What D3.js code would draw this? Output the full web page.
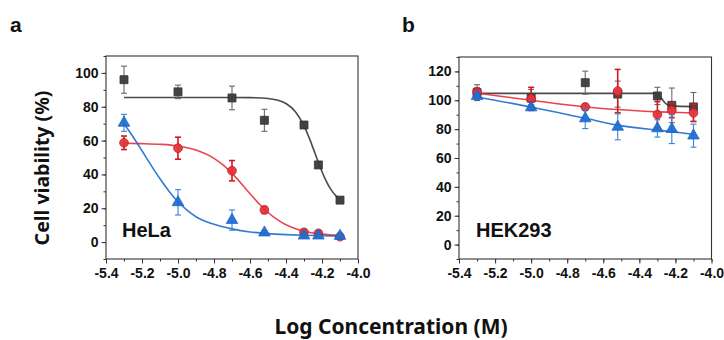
<!DOCTYPE html>
<html><head><meta charset="utf-8">
<script src="https://cdn.jsdelivr.net/npm/d3@7"></script>
<style>
html,body{margin:0;padding:0;background:#fff;}
svg{display:block;}
</style></head>
<body>
<svg id="chart" width="724" height="340"></svg>
<script>
// ---------- data ----------
const concLog = [-5.3, -5.0, -4.7, -4.52, -4.3, -4.22, -4.1];

const helaBlack = [96, 88.8, 85.2, 72, 69.2, 45.6, 24.8];
const helaBlackErr = [8, 4, 7, 6.5, 1.5, 1.5, 1.5];
const helaRed = [58.7, 55.5, 42.2, 19, 5.8, 5.2, 3.2];
const helaRedErr = [4, 6.5, 6, 2, 1.5, 1.5, 1.5];
const helaBlue = [70.5, 23.5, 13, 5.6, 3.8, 3.8, 3.6];
const helaBlueErr = [5, 7.5, 6, 1, 1, 1, 1];

const hekBlack = [105.3, 101.5, 112.2, 104.3, 103, 96.5, 95.4];
const hekBlackErr = [5.5, 6, 8, 9, 6, 12, 10];
const hekRed = [105.5, 101, 95.4, 106.4, 90.1, 93, 91.3];
const hekRedErr = [3, 8, 2, 15, 9, 5, 6];
const hekBlue = [102.8, 95, 87.4, 81.6, 80.5, 80, 75.5];
const hekBlueErr = [2, 2, 7, 9, 6, 10, 8];

// fitted curves
const helaBlackFitX = [-5.3, -5.0, -4.7, -4.6, -4.5, -4.45, -4.4, -4.35, -4.3, -4.27, -4.24, -4.21, -4.18, -4.15, -4.12, -4.1];
const helaBlackFitY = [85.5, 85.5, 85.5, 85.4, 84.9, 84.0, 81.9, 77.3, 68.7, 61.3, 52.8, 44.2, 36.8, 31.0, 27.0, 25.0];
const helaRedFitX = [-5.3, -5.2, -5.1, -5.0, -4.9, -4.8, -4.75, -4.7, -4.65, -4.6, -4.55, -4.5, -4.45, -4.4, -4.35, -4.3, -4.2, -4.1];
const helaRedFitY = [58.4, 58.2, 57.8, 56.8, 54.4, 49.5, 45.6, 40.6, 34.8, 28.6, 22.7, 17.5, 13.4, 10.2, 8.0, 6.4, 4.7, 4.0];
const helaBlueFitX = [-5.3, -5.25, -5.2, -5.15, -5.1, -5.05, -5.0, -4.95, -4.9, -4.8, -4.7, -4.6, -4.5, -4.4, -4.3, -4.2, -4.1];
const helaBlueFitY = [70.0, 62.3, 54.0, 45.5, 37.4, 30.1, 23.8, 18.9, 15.0, 10.5, 7.8, 6.0, 5.0, 4.4, 4.0, 3.7, 3.5];

const hekBlackFitX = [-5.3, -4.7, -4.32, -4.3, -4.28, -4.26, -4.24, -4.22, -4.1];
const hekBlackFitY = [104.8, 104.8, 104.8, 104.3, 102.0, 98.5, 96.6, 96.1, 95.6];
const hekRedFitX = [-5.3, -5.0, -4.7, -4.52, -4.3, -4.22, -4.1];
const hekRedFitY = [105.0, 100.0, 95.4, 93.6, 92.0, 91.7, 91.2];
const hekBlueFitX = [-5.3, -5.0, -4.7, -4.52, -4.3, -4.22, -4.1];
const hekBlueFitY = [102.3, 95.3, 87.5, 82.8, 79.3, 78.2, 76.3];

const xTicks = [-5.4, -5.2, -5.0, -4.8, -4.6, -4.4, -4.2, -4.0];
const helaYTicks = [0, 20, 40, 60, 80, 100];
const hekYTicks = [0, 20, 40, 60, 80, 100, 120];

const colBlack = "#3c3c3c", colRed = "#e8343c", colBlue = "#1f6fd6";
const errBlack = "#6a6a6a", errRed = "#d01a22", errBlue = "#3b82d6";

const svg = d3.select("#chart");
const tickFont = "'Liberation Sans', Arial, sans-serif";
const titleFont = "'Noto Sans', 'Open Sans', sans-serif";

function panel(opts) {
  const x = d3.scaleLinear().domain([-5.4, -4.0]).range(opts.xr);
  const y = d3.scaleLinear().domain(opts.yd).range([259, opts.yTop]);
  const g = svg.append("g");

  // minor ticks
  const xMinor = d3.range(-5.4, -3.99, 0.1).map(v => +v.toFixed(2));
  g.append("g").attr("transform", `translate(0,${y.range()[0]})`)
    .call(d3.axisBottom(x).tickValues(xMinor).tickSize(2.5).tickFormat(""))
    .call(a => a.select(".domain").remove())
    .call(a => a.selectAll("line").attr("stroke", "#333"));
  const yMinor = d3.range(opts.yd[0], opts.yd[1] + 0.1, 10);
  g.append("g").attr("transform", `translate(${x.range()[0]},0)`)
    .call(d3.axisLeft(y).tickValues(yMinor).tickSize(2.5).tickFormat(""))
    .call(a => a.select(".domain").remove())
    .call(a => a.selectAll("line").attr("stroke", "#333"));

  // major axes
  const ax = g.append("g").attr("transform", `translate(0,${y.range()[0]})`)
    .call(d3.axisBottom(x).tickValues(xTicks).tickSize(4.5).tickPadding(5).tickFormat(d3.format(".1f")));
  ax.select(".domain").remove();
  ax.selectAll("line").attr("stroke", "#333");
  ax.selectAll("text").attr("font-family", tickFont).attr("font-weight", "bold")
    .attr("font-size", 14).attr("fill", "#111").text(d => d3.format(".1f")(d).replace("−", "-"));
  const ay = g.append("g").attr("transform", `translate(${x.range()[0]},0)`)
    .call(d3.axisLeft(y).tickValues(opts.yTicks).tickSize(4.5).tickPadding(3));
  ay.select(".domain").remove();
  ay.selectAll("line").attr("stroke", "#333");
  ay.selectAll("text").attr("font-family", tickFont).attr("font-weight", "bold")
    .attr("font-size", 14).attr("fill", "#111");

  // frame
  g.append("rect").attr("x", x.range()[0]).attr("y", y.range()[1])
    .attr("width", x.range()[1] - x.range()[0]).attr("height", y.range()[0] - y.range()[1])
    .attr("fill", "none").attr("stroke", "#333").attr("stroke-width", 1.1);

  const line = d3.line().x(d => x(d[0])).y(d => y(d[1])).curve(d3.curveMonotoneX);
  opts.series.forEach(s => {
    g.append("path").datum(d3.zip(s.fitX, s.fitY)).attr("d", line)
      .attr("fill", "none").attr("stroke", s.color).attr("stroke-width", 1.6).attr("opacity", 0.92);
  });
  opts.series.forEach(s => {
    const eg = g.append("g").attr("stroke", s.err).attr("stroke-width", s.errW || 1.1);
    concLog.forEach((cx, i) => {
      const px = x(cx), y1 = y(s.vals[i] + s.errs[i]), y2 = y(s.vals[i] - s.errs[i]);
      eg.append("line").attr("x1", px).attr("x2", px).attr("y1", y1).attr("y2", y2);
      eg.append("line").attr("x1", px - 3).attr("x2", px + 3).attr("y1", y1).attr("y2", y1);
      eg.append("line").attr("x1", px - 3).attr("x2", px + 3).attr("y1", y2).attr("y2", y2);
    });
    const sym = d3.symbol().type(s.shape).size(s.size);
    g.append("g").selectAll("path").data(concLog).join("path")
      .attr("transform", (d, i) => `translate(${x(d)},${y(s.vals[i])})`)
      .attr("d", sym).attr("fill", s.color).attr("stroke", s.stroke).attr("stroke-width", 0.8).attr("opacity", 0.95);
  });

  g.append("text").attr("x", opts.labelX).attr("y", 237).text(opts.label)
    .attr("font-family", tickFont).attr("font-weight", "bold").attr("font-size", 20).attr("fill", "#111");
}

panel({
  xr: [106, 358], yd: [-10, 110], yTop: 56, yTicks: helaYTicks, label: "HeLa", labelX: 122,
  series: [
    {vals: helaBlack, errs: helaBlackErr, fitX: helaBlackFitX, fitY: helaBlackFitY, color: colBlack, stroke: "#2a2a2a", err: errBlack, shape: d3.symbolSquare, size: 64},
    {vals: helaRed, errs: helaRedErr, fitX: helaRedFitX, fitY: helaRedFitY, color: colRed, stroke: "#b81c22", err: errRed, errW: 1.6, shape: d3.symbolCircle, size: 60},
    {vals: helaBlue, errs: helaBlueErr, fitX: helaBlueFitX, fitY: helaBlueFitY, color: colBlue, stroke: "#1a5fb8", err: errBlue, shape: d3.symbolTriangle, size: 58}
  ]
});
panel({
  xr: [459, 711.5], yd: [-10, 130], yTop: 57, yTicks: hekYTicks, label: "HEK293", labelX: 476,
  series: [
    {vals: hekBlack, errs: hekBlackErr, fitX: hekBlackFitX, fitY: hekBlackFitY, color: colBlack, stroke: "#2a2a2a", err: errBlack, shape: d3.symbolSquare, size: 64},
    {vals: hekRed, errs: hekRedErr, fitX: hekRedFitX, fitY: hekRedFitY, color: colRed, stroke: "#b81c22", err: errRed, errW: 1.6, shape: d3.symbolCircle, size: 60},
    {vals: hekBlue, errs: hekBlueErr, fitX: hekBlueFitX, fitY: hekBlueFitY, color: colBlue, stroke: "#1a5fb8", err: errBlue, shape: d3.symbolTriangle, size: 58}
  ]
});

// panel letters
svg.append("text").attr("x", 10).attr("y", 32).text("a")
  .attr("font-family", tickFont).attr("font-weight", "bold").attr("font-size", 21).attr("fill", "#111");
svg.append("text").attr("x", 402).attr("y", 32).text("b")
  .attr("font-family", tickFont).attr("font-weight", "bold").attr("font-size", 21).attr("fill", "#111");

// axis titles
svg.append("text").attr("transform", "translate(49,168) rotate(-90)").attr("text-anchor", "middle")
  .text("Cell viability (%)").attr("font-family", titleFont).attr("font-weight", "bold")
  .attr("font-size", 19.5).attr("fill", "#111");
svg.append("text").attr("x", 391).attr("y", 334).attr("text-anchor", "middle")
  .text("Log Concentration (M)").attr("font-family", titleFont).attr("font-weight", "bold")
  .attr("font-size", 21).attr("fill", "#111");
</script>
</body></html>
